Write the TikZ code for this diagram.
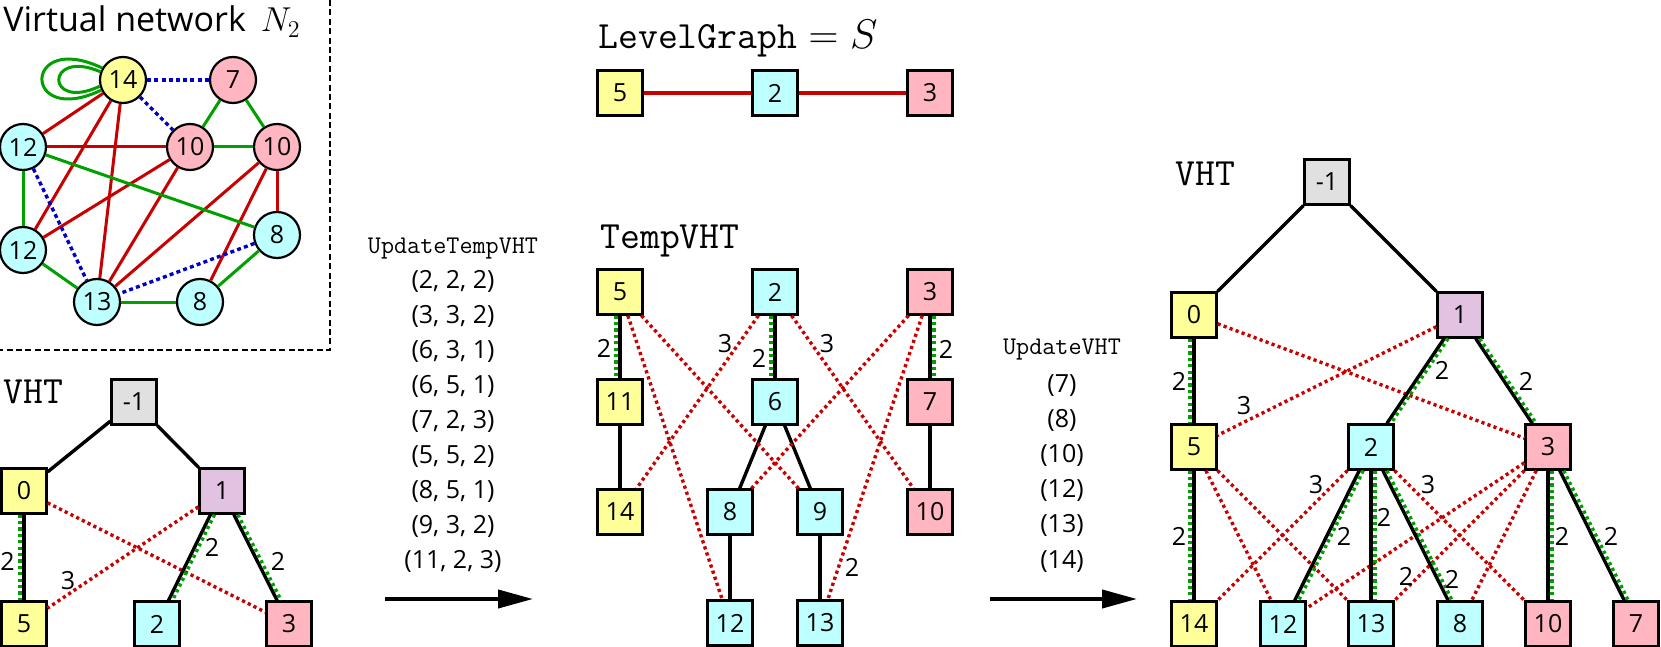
\documentclass[tikz,border=0pt]{standalone}
\usepackage{fontspec}
\newfontfamily\osans{Open Sans}
\usetikzlibrary{arrows.meta}
\definecolor{cyel}{RGB}{255,255,153}
\definecolor{ccya}{RGB}{190,255,255}
\definecolor{cpnk}{RGB}{255,182,193}
\definecolor{cgry}{RGB}{224,224,224}
\definecolor{cpur}{RGB}{225,195,225}
\definecolor{dred}{RGB}{200,0,0}
\definecolor{dgrn}{RGB}{0,160,0}
\definecolor{dblu}{RGB}{0,0,200}
\newcommand\dbledge[3]{\draw[tline] (#1) -- (#2); \draw[gdot,transform canvas={xshift=#3}] (#1) -- (#2);}
\begin{document}
\begin{tikzpicture}[x=0.5pt,y=-0.5pt,
  box/.style={draw, line width=1.1pt, minimum size=22.5pt, inner sep=0pt, font=\osans\fontsize{12.5}{14}\selectfont},
  cnode/.style={circle, draw, line width=1.1pt, minimum size=23pt, inner sep=0pt, font=\osans\fontsize{12.5}{14}\selectfont},
  tline/.style={line width=1.7pt, black},
  gdot/.style={draw=dgrn, line width=1.7pt, dash pattern=on 1.6pt off 1.6pt},
  rdot/.style={draw=dred, line width=1.7pt, dash pattern=on 1.6pt off 1.6pt},
  nred/.style={draw=dred, line width=1.5pt},
  ngrn/.style={draw=dgrn, line width=1.5pt},
  nblu/.style={draw=dblu, line width=1.7pt, dash pattern=on 2pt off 1.6pt},
  lab/.style={font=\osans\fontsize{12.5}{14}\selectfont, inner sep=0pt},
  seq/.style={font=\osans\fontsize{12.5}{14}\selectfont, inner sep=0pt, anchor=base},
  ttsmall/.style={font=\ttfamily\fontsize{12.7}{15}\selectfont, inner sep=0pt, anchor=base},
  ttbig/.style={font=\ttfamily\fontsize{19.3}{23}\selectfont, inner sep=0pt, anchor=base west},
  bordash/.style={line width=0.8pt, dash pattern=on 3pt off 1.7pt},
  bigarrow/.style={line width=2pt, -{Triangle[length=17.5pt,width=9pt]}}
]
\useasboundingbox (0,0) rectangle (1661,647);

% ---------------- Virtual network ----------------
\node[anchor=base west, inner sep=0pt, font=\osans\fontsize{17}{20}\selectfont] (title) at (3,32) {Virtual network\hspace{3pt} $N_2$};
\node[cnode,fill=cyel] (n14) at (123,80) {14};
\node[cnode,fill=cpnk] (n7) at (233,80) {7};
\node[cnode,fill=ccya] (n12a) at (23,147) {12};
\node[cnode,fill=cpnk] (n10a) at (190,147) {10};
\node[cnode,fill=cpnk] (n10b) at (277,147) {10};
\node[cnode,fill=ccya] (n8a) at (277,235) {8};
\node[cnode,fill=ccya] (n12b) at (23,250) {12};
\node[cnode,fill=ccya] (n13) at (97,302) {13};
\node[cnode,fill=ccya] (n8b) at (200,302) {8};

\draw[ngrn] (n14.150) .. controls (22,30) and (22,128) .. (n14.205);
\draw[ngrn] (n14.160) .. controls (45,48) and (45,112) .. (n14.195);
\foreach \a/\b in {n14/n12a,n14/n12b,n14/n13,n12a/n10a,n10a/n12b,n10a/n13,n10b/n13,n10b/n8b,n10b/n8a}
  \draw[nred] (\a) -- (\b);
\foreach \a/\b in {n7/n10a,n7/n10b,n10a/n10b,n12a/n8a,n12a/n12b,n12b/n13,n13/n8b,n8a/n8b}
  \draw[ngrn] (\a) -- (\b);
\foreach \a/\b in {n14/n7,n14/n10a,n12a/n13,n8a/n13}
  \draw[nblu] (\a) -- (\b);

\draw[bordash] (330,0) -- (330,350) -- (0,350);

% ---------------- Left VHT ----------------
\node[ttbig] (vhtl) at (3,403) {VHT};
\node[box,fill=cgry] (Lm1) at (134,402) {-1};
\node[box,fill=cyel] (L0) at (24,491) {0};
\node[box,fill=cpur] (L1) at (222,491) {1};
\node[box,fill=cyel] (L5) at (24,624) {5};
\node[box,fill=ccya] (L2) at (157,624) {2};
\node[box,fill=cpnk] (L3) at (289,624) {3};
\draw[tline] (Lm1) -- (L0);
\draw[tline] (Lm1) -- (L1);
\draw[rdot] (L0) -- (L3);
\draw[rdot] (L1) -- (L5);
\dbledge{L0}{L5}{-2pt}
\dbledge{L1}{L2}{2pt}
\dbledge{L1}{L3}{2pt}
\node[lab] (lL05) at (7.5,561) {2};
\node[lab] (lL12) at (212,547) {2};
\node[lab] (lL13) at (278,561) {2};
\node[lab] (lL15) at (68,581) {3};

% ---------------- UpdateTempVHT ----------------
\node[ttsmall] (utv) at (453,253) {UpdateTempVHT};
\foreach \t [count=\i from 0] in {{(2, 2, 2)},{(3, 3, 2)},{(6, 3, 1)},{(6, 5, 1)},{(7, 2, 3)},{(5, 5, 2)},{(8, 5, 1)},{(9, 3, 2)},{(11, 2, 3)}}
  \node[seq] (s\i) at (453,{288+35.1*\i}) {\t};
\coordinate (a1s) at (385,599);
\coordinate (a1e) at (533,599);
\draw[bigarrow] (a1s) -- (a1e);

% ---------------- LevelGraph ----------------
\node[ttbig] (lg) at (598,49) {$\mbox{LevelGraph}=S$};
\node[box,fill=cyel] (G5) at (620,93) {5};
\node[box,fill=ccya] (G2) at (775,93) {2};
\node[box,fill=cpnk] (G3) at (930,93) {3};
\draw[nred,line width=1.6pt] (G5) -- (G2);
\draw[nred,line width=1.6pt] (G2) -- (G3);

% ---------------- TempVHT ----------------
\node[ttbig] (tvht) at (600,249) {TempVHT};
\node[box,fill=cyel] (T5) at (620,292) {5};
\node[box,fill=ccya] (T2) at (775,292) {2};
\node[box,fill=cpnk] (T3) at (930,292) {3};
\node[box,fill=cyel] (T11) at (620,402) {11};
\node[box,fill=ccya] (T6) at (775,402) {6};
\node[box,fill=cpnk] (T7) at (930,402) {7};
\node[box,fill=cyel] (T14) at (620,512) {14};
\node[box,fill=ccya] (T8) at (730,512) {8};
\node[box,fill=ccya] (T9) at (820,512) {9};
\node[box,fill=cpnk] (T10) at (930,512) {10};
\node[box,fill=ccya] (T12) at (730,623) {12};
\node[box,fill=ccya] (T13) at (820,623) {13};
\foreach \a/\b in {T11/T14,T6/T8,T6/T9,T8/T12,T9/T13,T7/T10}
  \draw[tline] (\a) -- (\b);
\foreach \a/\b in {T5/T9,T5/T12,T2/T14,T2/T10,T3/T8,T3/T13}
  \draw[rdot] (\a) -- (\b);
\dbledge{T5}{T11}{-2pt}
\dbledge{T2}{T6}{-2pt}
\dbledge{T3}{T7}{2pt}
\node[lab] (lT511) at (604,348) {2};
\node[lab] (lT26) at (759,358) {2};
\node[lab] (lT37) at (946,349) {2};
\node[lab] (lT214) at (725,344) {3};
\node[lab] (lT210) at (827,344) {3};
\node[lab] (lT313) at (852,567) {2};

% ---------------- UpdateVHT ----------------
\node[ttsmall] (uv) at (1062,354) {UpdateVHT};
\foreach \t [count=\i from 0] in {{(7)},{(8)},{(10)},{(12)},{(13)},{(14)}}
  \node[seq] (u\i) at (1062,{392+35.2*\i}) {\t};
\coordinate (a2s) at (990,599);
\coordinate (a2e) at (1137,599);
\draw[bigarrow] (a2s) -- (a2e);

% ---------------- Right VHT ----------------
\node[ttbig] (vhtr) at (1175,185) {VHT};
\node[box,fill=cgry] (Rm1) at (1327,182) {-1};
\node[box,fill=cyel] (R0) at (1194,315) {0};
\node[box,fill=cpur] (R1) at (1460,315) {1};
\node[box,fill=cyel] (R5) at (1194,447) {5};
\node[box,fill=ccya] (R2) at (1371,447) {2};
\node[box,fill=cpnk] (R3) at (1548,447) {3};
\node[box,fill=cyel] (R14) at (1194,624) {14};
\node[box,fill=ccya] (R12) at (1283,624) {12};
\node[box,fill=ccya] (R13) at (1371,624) {13};
\node[box,fill=ccya] (R8) at (1460,624) {8};
\node[box,fill=cpnk] (R10) at (1548,624) {10};
\node[box,fill=cpnk] (R7) at (1636,624) {7};
\draw[tline] (Rm1) -- (R0);
\draw[tline] (Rm1) -- (R1);
\foreach \a/\b in {R0/R3,R1/R5,R5/R12,R5/R13,R2/R14,R2/R10,R3/R12,R3/R13,R3/R8}
  \draw[rdot] (\a) -- (\b);
\dbledge{R0}{R5}{-2pt}
\dbledge{R5}{R14}{-2pt}
\dbledge{R1}{R2}{2pt}
\dbledge{R1}{R3}{2pt}
\dbledge{R2}{R12}{2pt}
\dbledge{R2}{R13}{2pt}
\dbledge{R2}{R8}{2pt}
\dbledge{R3}{R10}{2pt}
\dbledge{R3}{R7}{2pt}
\node[lab] (lR05) at (1179,381) {2};
\node[lab] (lR514) at (1179,536) {2};
\node[lab] (lR15) at (1244,406) {3};
\node[lab] (lR12) at (1442,370) {2};
\node[lab] (lR13) at (1526,381) {2};
\node[lab] (lR214) at (1316,485) {3};
\node[lab] (lR210) at (1428,485) {3};
\node[lab] (lR212) at (1344,536) {2};
\node[lab] (lR213) at (1384,517) {2};
\node[lab] (lR313) at (1406,576) {2};
\node[lab] (lR28) at (1452,579) {2};
\node[lab] (lR310) at (1562,536) {2};
\node[lab] (lR37) at (1611,536) {2};
\end{tikzpicture}
\end{document}
